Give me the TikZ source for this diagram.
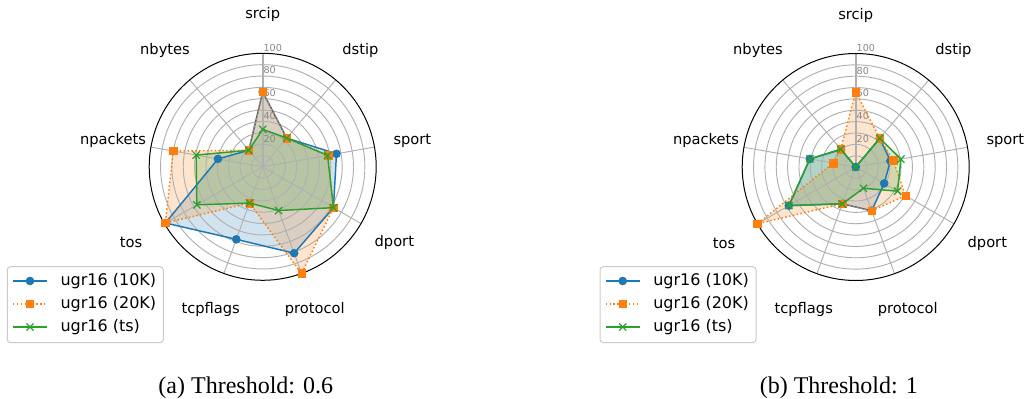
\documentclass[tikz,border=0pt]{standalone}
\usepackage{fontspec}
\newfontfamily\djv{DejaVu Sans}
\newfontfamily\capf{Liberation Serif}
\usetikzlibrary{shapes.misc}
\definecolor{mblue}{HTML}{1F77B4}
\definecolor{morange}{HTML}{FF7F0E}
\definecolor{mgreen}{HTML}{2CA02C}
\definecolor{gridc}{HTML}{B0B0B0}
\definecolor{tickc}{HTML}{888888}
\definecolor{legc}{HTML}{CCCCCC}
\tikzset{
  axlabel/.style={font=\djv\fontsize{11}{13}\selectfont, inner sep=0},
  rtick/.style={font=\djv\fontsize{7.2}{8}\selectfont, text=tickc, anchor=base west, inner sep=0, xshift=0.5pt, yshift=1.5pt},
  gridline/.style={draw=gridc, line width=0.7pt},
  mainaxis/.style={draw=gridc, line width=1.5pt},
  spine/.style={draw=black, line width=0.75pt},
  mkten/.style={circle, fill=mblue, draw=mblue, inner sep=0, minimum size=6pt},
  mktwenty/.style={rectangle, fill=morange, draw=morange, inner sep=0, minimum size=5.6pt},
  mkts/.style={cross out, draw=mgreen, inner sep=0, minimum size=4.5pt, line width=0.9pt},
  lnten/.style={draw=mblue, line width=1.1pt, line join=round},
  lntwenty/.style={draw=morange, line width=1.1pt, dash pattern=on 1.1pt off 1.8pt, line join=round},
  lnts/.style={draw=mgreen, line width=1.1pt, line join=round},
  flten/.style={fill=mblue, fill opacity=0.2},
  fltwenty/.style={fill=morange, fill opacity=0.2},
  flts/.style={fill=mgreen, fill opacity=0.2},
  legbox/.style={draw=legc, fill=white, fill opacity=0.8, rounded corners=2.5pt, line width=0.75pt},
  legtext/.style={font=\djv\fontsize{12}{14}\selectfont, anchor=west, inner sep=0},
  captext/.style={font=\capf\fontsize{18}{20}\selectfont, anchor=base, inner sep=0}
}
% #1 centre, #2 prefix, #3 blue, #4 orange, #5 green
\newcommand\radarchart[5]{%
\begin{scope}[shift={#1}, yscale=-1, scale=1.135]
  \foreach \v [count=\i from 0] in {#3} \coordinate (#2b\i) at ({90-40*\i}:\v);
  \foreach \v [count=\i from 0] in {#4} \coordinate (#2o\i) at ({90-40*\i}:\v);
  \foreach \v [count=\i from 0] in {#5} \coordinate (#2g\i) at ({90-40*\i}:\v);
  \coordinate (#2c) at (0,0);
  % fills
  \path[flten] (#2b0) \foreach \i in {1,...,8}{-- (#2b\i)} -- cycle;
  \path[fltwenty] (#2o0) \foreach \i in {1,...,8}{-- (#2o\i)} -- cycle;
  \path[flts] (#2g0) \foreach \i in {1,...,8}{-- (#2g\i)} -- cycle;
  % grid
  \foreach \r in {10,20,...,90} \draw[gridline] (#2c) circle (\r);
  \foreach \i in {1,...,8} \draw[gridline] (#2c) -- ({90-40*\i}:100);
  \draw[mainaxis] (#2c) -- (90:100);
  \foreach \r in {20,40,...,100} \node[rtick] (#2tick\r) at (90:\r) {\r};
  \draw[spine] (#2c) circle (100);
  \foreach \lab [count=\i from 0] in {srcip,dstip,sport,dport,protocol,tcpflags,tos,npackets,nbytes}
    \node[axlabel] (#2lab\i) at ({90-40*\i}:133.9) {\lab};
  % lines and markers
  \path[lnten] (#2b0) \foreach \i in {1,...,8}{-- (#2b\i)} -- cycle;
  \foreach \i in {0,...,8} \node[mkten] at (#2b\i) {};
  \path[lntwenty] (#2o0) \foreach \i in {1,...,8}{-- (#2o\i)} -- cycle;
  \foreach \i in {0,...,8} \node[mktwenty] at (#2o\i) {};
  \path[lnts] (#2g0) \foreach \i in {1,...,8}{-- (#2g\i)} -- cycle;
  \foreach \i in {0,...,8} \node[mkts] at (#2g\i) {};
\end{scope}}
% #1 left x, #2 prefix
\newcommand\mylegend[2]{%
  \draw[legbox] (#1,266.7) rectangle (#1+156,342.7);
  \coordinate (#2la) at (#1+5.7,281);   \coordinate (#2lb) at (#1+39.7,281);
  \coordinate (#2lc) at (#1+5.7,304);   \coordinate (#2ld) at (#1+39.7,304);
  \coordinate (#2le) at (#1+5.7,327);   \coordinate (#2lf) at (#1+39.7,327);
  \draw[lnten] (#2la) -- (#2lb);
  \node[mkten] at ($(#2la)!0.5!(#2lb)$) {};
  \draw[lntwenty] (#2lc) -- (#2ld);
  \node[mktwenty] at ($(#2lc)!0.5!(#2ld)$) {};
  \draw[lnts] (#2le) -- (#2lf);
  \node[mkts] at ($(#2le)!0.5!(#2lf)$) {};
  \node[legtext] (#2ta) at (#1+53,281) {ugr16 (10K)};
  \node[legtext] (#2tb) at (#1+53,304) {ugr16 (20K)};
  \node[legtext] (#2tc) at (#1+53,327) {ugr16 (ts)};
}
\usetikzlibrary{calc}
\begin{document}
\begin{tikzpicture}[x=0.75pt, y=-0.75pt]
  \useasboundingbox[fill=white] (0,0) rectangle (1031,399);
  \radarchart{(262.7,166.8)}{A}{66,33,66,72,81,68,99,40,19}{66,33,58.5,72,100,34,99,80,19}{33,33,58,72,41,34,67,59.5,19}
  \radarchart{(855.7,167)}{B}{0,33,31,29,41,34.5,68,41,20}{66,33,33.5,50.7,41,34.5,100,20,20.5}{0,33,40.4,42.6,20,34.5,68,41,20.5}
  \mylegend{7.3}{A}
  \mylegend{600}{B}
  \node[captext] (capa) at (245.8,393) {(a) Threshold: 0.6};
  \node[captext] (capb) at (838.8,393) {(b) Threshold: 1};
\end{tikzpicture}
\end{document}
